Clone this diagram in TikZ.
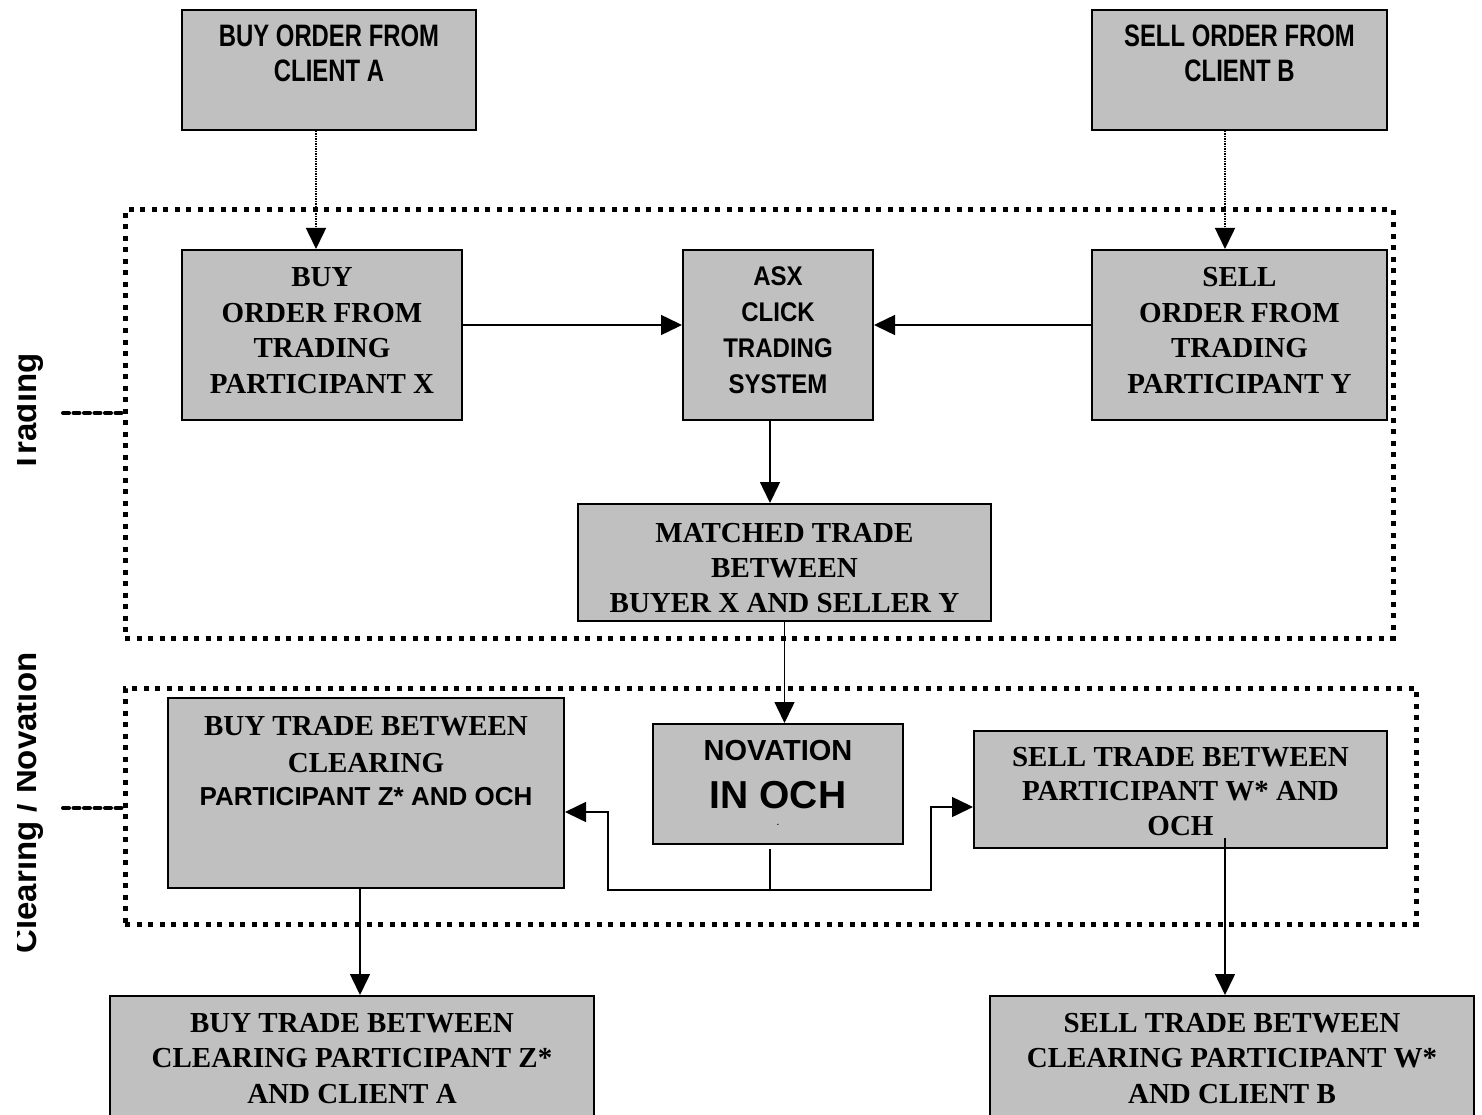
\documentclass[tikz,border=0pt]{standalone}
\usepackage{fontspec}
\setmainfont{Liberation Serif}
\newfontfamily\arialfont{Liberation Sans}
\newfontfamily\narrowfont[FakeStretch=0.77]{Liberation Sans}
\newfontfamily\asxfont[FakeStretch=0.89]{Liberation Sans}
\usetikzlibrary{calc,arrows.meta}
\definecolor{boxgray}{HTML}{C0C0C0}
\tikzset{
  box/.style={draw, line width=2pt, fill=boxgray, inner sep=0pt, align=center},
  timesbox/.style={box, font=\fontsize{29}{35.5}\selectfont\bfseries},
  clientbox/.style={box, font=\narrowfont\bfseries\fontsize{31}{35}\selectfont},
  conn/.style={line width=1.5pt, -{Triangle[width=20pt,length=21pt]}},
  dotconn/.style={conn, dash pattern=on 1.5pt off 1pt},
  zone/.style={draw, line width=5pt, dash pattern=on 5pt off 6.5pt, inner sep=0pt},
  zonetick/.style={line width=4pt, line cap=round, dash pattern=on 6pt off 4.5pt},
  zonelabel/.style={font=\arialfont\bfseries\fontsize{33}{33}\selectfont, rotate=90, anchor=base, inner sep=0pt},
}

\begin{document}
\begin{tikzpicture}[x=1pt, y=-1pt]
			%%%%% START %%%%%
			\useasboundingbox (0,0) rectangle (1482,1115);
			
			\node[zone, minimum width=1268pt, minimum height=428pt] (tradingzone) at (759, 424) {};
			\node[zone, minimum width=1291pt, minimum height=236pt] (clearingzone) at (770.5, 806) {};
			
			\coordinate (tradetick) at (63, 413);
			\coordinate (cleartick) at (63, 808);
			\draw[zonetick] (tradetick) -- (tradetick -| tradingzone.west);
			\draw[zonetick] (cleartick) -- (cleartick -| clearingzone.west);
			
			\begin{scope}
				\clip (17, 300) rectangle (60, 1000);
				\node[zonelabel] (tradinglabel) at (36, 413) {Trading};
				\node[zonelabel] (clearinglabel) at (36, 803) {Clearing / Novation};
			\end{scope}
			
			\node[clientbox, minimum width=294pt, text height=72pt, text depth=48pt] (clientA) at (329, 70) {BUY ORDER FROM\\CLIENT A};
			\node[clientbox, minimum width=295pt, text height=72pt, text depth=48pt] (clientB) at (1239.5, 70) {SELL ORDER FROM\\CLIENT B};
			
			\node[timesbox, minimum width=280pt, text height=143pt, text depth=27pt] (partX) at (322, 335) {BUY\\ORDER FROM\\TRADING\\PARTICIPANT X};
			\node[box, font=\asxfont\bfseries\fontsize{27}{36}\selectfont, minimum width=190pt, text height=143pt, text depth=27pt] (asx) at (778, 335) {ASX\\CLICK\\TRADING\\SYSTEM};
			\node[timesbox, minimum width=295pt, text height=143pt, text depth=27pt] (partY) at (1239.5, 335) {SELL\\ORDER FROM\\TRADING\\PARTICIPANT Y};
			\node[timesbox, font=\fontsize{29}{35}\selectfont\bfseries, minimum width=413pt, text height=108pt, text depth=9pt] (match) at (784.5, 562.5) {MATCHED TRADE\\BETWEEN\\BUYER X AND SELLER Y};
			
			\node[timesbox, font=\fontsize{29}{37}\selectfont\bfseries, minimum width=396pt, text height=107pt, text depth=83pt] (buyTrade) at (366, 793) {BUY TRADE BETWEEN\\CLEARING\\[-4pt]{\arialfont\fontsize{26}{26}\selectfont PARTICIPANT Z* AND OCH}};
			\node[box, font=\arialfont\bfseries\fontsize{29}{36}\selectfont, minimum width=250pt, text height=101pt, text depth=19pt] (nov) at (778, 784) {NOVATION\\[12pt]{\fontsize{39}{39}\selectfont IN OCH}\\[-19pt]{\fontsize{8}{8}\selectfont .}};
			\node[timesbox, font=\fontsize{29}{34.5}\selectfont\bfseries, minimum width=413pt, text height=104pt, text depth=13pt] (sellTrade) at (1180.5, 789.5) {SELL TRADE BETWEEN\\PARTICIPANT W* AND\\OCH};
			
			\node[timesbox, minimum width=484pt, text height=107pt, text depth=37pt] (bottomA) at (352, 1068) {BUY TRADE BETWEEN\\CLEARING PARTICIPANT Z*\\AND CLIENT A};
			\node[timesbox, minimum width=484pt, text height=107pt, text depth=37pt] (bottomB) at (1232, 1068) {SELL TRADE BETWEEN\\CLEARING PARTICIPANT W*\\AND CLIENT B};
			
			\draw[dotconn] ([xshift=-13pt]clientA.south) -- ([xshift=-13pt]clientA.south |- partX.north);
			\draw[dotconn] ([xshift=-14.5pt]clientB.south) -- ([xshift=-14.5pt]clientB.south |- partY.north);
			\draw[conn] ([yshift=10pt]partX.east) -- ([yshift=10pt]asx.west);
			\draw[conn] ([yshift=10pt]partY.west) -- ([yshift=10pt]asx.east);
			\draw[conn] ([xshift=-8pt]asx.south) -- ([xshift=-8pt]asx.south |- match.north);
			\draw[conn] (match.south) -- (match.south |- nov.north);
			
			\coordinate (novdrop) at (770, 890);
			\coordinate (novleft) at (608, 890);
			\coordinate (novright) at (931, 890);
			\draw[line width=1.5pt] ([xshift=-8pt,yshift=-4pt]nov.south) -- (novdrop);
			\draw[conn] (novdrop) -- (novleft) |- ([yshift=-19pt]buyTrade.east);
			\draw[conn] (novdrop) -- (novright) |- ([yshift=-17.5pt]sellTrade.west);
			
			\draw[conn] ([xshift=-6pt]buyTrade.south) -- ([xshift=-6pt]buyTrade.south |- bottomA.north);
			\draw[conn] ([xshift=44.5pt,yshift=11pt]sellTrade.south) -- ([xshift=44.5pt]sellTrade.south |- bottomB.north);
			
			%%%%% END %%%%%
\end{tikzpicture}
\end{document}
